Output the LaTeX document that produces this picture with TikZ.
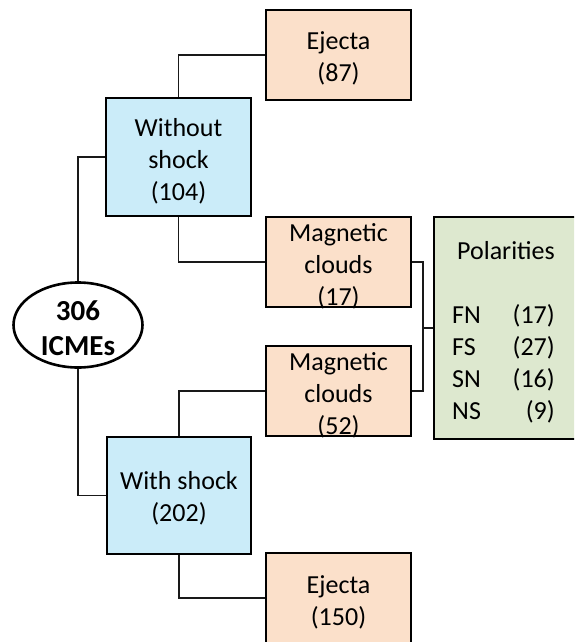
\documentclass[tikz,border=0pt]{standalone}
\usepackage{fontspec}
\setmainfont{Carlito}
\usetikzlibrary{shapes.geometric}
\definecolor{boxblue}{HTML}{CBECF9}
\definecolor{boxpeach}{HTML}{FBE0CA}
\definecolor{boxgreen}{HTML}{DDE8CF}
\begin{document}
\begin{tikzpicture}[x=1pt,y=-1pt,
  txt/.style={font=\fontsize{26}{32}\selectfont},
  boxtext/.style={txt, align=center, inner sep=0pt, yshift=-4pt},
  bluebox/.style={draw=black, line width=2.6pt, fill=boxblue, inner sep=0pt},
  peachbox/.style={draw=black, line width=2.6pt, fill=boxpeach, inner sep=0pt, minimum width=145pt, minimum height=90pt},
  greenbox/.style={draw=black, line width=2.6pt, fill=boxgreen, inner sep=0pt},
  conn/.style={line width=1.8pt, draw=black!90}
]
\clip (0,0) rectangle (574,642);
\fill[white] (0,0) rectangle (574,642);

% nodes
\node[ellipse, draw=black, line width=2.6pt, fill=white, minimum width=129pt, minimum height=85pt, inner sep=0pt] (ell) at (78,325) {};
\node[align=center, inner sep=0pt, yshift=-3pt, font=\bfseries\fontsize{29}{35}\selectfont] (elltext) at (ell.center) {306\\ICMEs};

\node[bluebox, minimum width=145pt, minimum height=118pt] (wo) at (178.5,157) {};
\node[boxtext] (wotext) at (wo.center) {Without\\shock\\(104)};
\node[bluebox, minimum width=144pt, minimum height=117pt] (w) at (179,495.5) {};
\node[boxtext, yshift=1pt] (wtext) at (w.center) {With shock\\(202)};

\node[peachbox] (ej1) at (338.5,55) {};
\node[boxtext, yshift=1pt] (ej1text) at (ej1.center) {Ejecta\\(87)};
\node[peachbox] (mc1) at (338.5,262) {};
\node[boxtext] (mc1text) at (mc1.center) {Magnetic\\clouds\\(17)};
\node[peachbox] (mc2) at (338.5,391) {};
\node[boxtext] (mc2text) at (mc2.center) {Magnetic\\clouds\\(52)};
\node[peachbox] (ej2) at (338.5,598) {};
\node[boxtext] (ej2text) at (ej2.center) {Ejecta\\(150)};

\node[greenbox, minimum width=200pt, minimum height=222pt] (pol) at (534,328) {};

% polarity texts
\node[txt, anchor=base] (ptitle) at (506,259) {Polarities};
\node[txt, anchor=base west, inner sep=0pt] (fn) at (452,323) {FN};
\node[txt, anchor=base west, inner sep=0pt] (fs) at (452,355) {FS};
\node[txt, anchor=base west, inner sep=0pt] (sn) at (452,387) {SN};
\node[txt, anchor=base west, inner sep=0pt] (ns) at (452,419) {NS};
\node[txt, anchor=base east, inner sep=0pt] (nfn) at (555,323) {(17)};
\node[txt, anchor=base east, inner sep=0pt] (nfs) at (555,355) {(27)};
\node[txt, anchor=base east, inner sep=0pt] (nsn) at (555,387) {(16)};
\node[txt, anchor=base east, inner sep=0pt] (nns) at (555,419) {(9)};

% connectors
\coordinate (jn) at (423,328);
\draw[conn] (ell.north) |- (wo.west);
\draw[conn] (ell.south) |- (w.west);
\draw[conn] (wo.north) |- (ej1.west);
\draw[conn] (wo.south) |- (mc1.west);
\draw[conn] (w.north) |- (mc2.west);
\draw[conn] (w.south) |- (ej2.west);
\draw[conn, line width=1.4pt] (mc1.east) -| (jn);
\draw[conn, line width=1.4pt] (mc2.east) -| (jn);
\draw[conn, line width=1.4pt] (jn) -- (pol.west);
\end{tikzpicture}
\end{document}
